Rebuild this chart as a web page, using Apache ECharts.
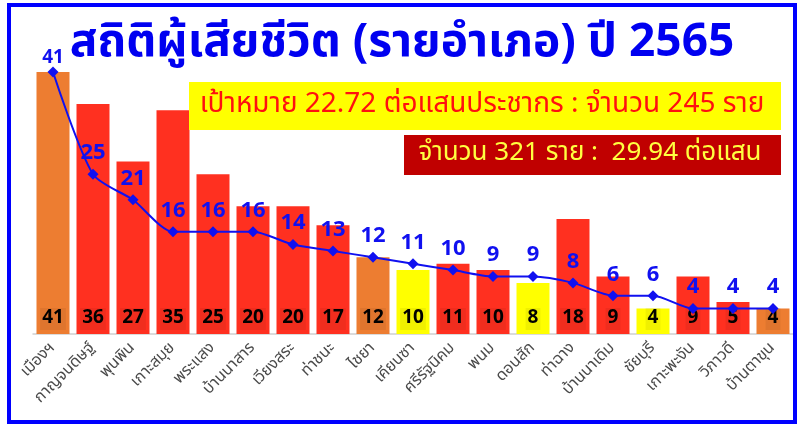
<!DOCTYPE html>
<html>
<head>
<meta charset="utf-8">
<script src="https://cdn.jsdelivr.net/npm/echarts@6/dist/echarts.min.js"></script>
<style>
  html, body { margin: 0; padding: 0; background: #fff; }
  #chart { width: 801px; height: 427px; }
</style>
</head>
<body>
<div id="chart"></div>
<script>
  // อำเภอ
  const districts = ['เมืองฯ', 'กาญจนดิษฐ์', 'พุนพิน', 'เกาะสมุย', 'พระแสง', 'บ้านนาสาร', 'เวียงสระ', 'ท่าชนะ', 'ไชยา', 'เคียนซา',
    'ศรีรัฐนิคม', 'พนม', 'ดอนสัก', 'ท่าฉาง', 'บ้านนาเดิม', 'ชัยบุรี', 'เกาะพะงัน', 'วิภาวดี', 'บ้านตาขุน'];
  // จำนวนผู้เสียชีวิต (แท่ง)
  const deaths = [41, 36, 27, 35, 25, 20, 20, 17, 12, 10, 11, 10, 8, 18, 9, 4, 9, 5, 4];
  // เส้น
  const lineValues = [41, 25, 21, 16, 16, 16, 14, 13, 12, 11, 10, 9, 9, 8, 6, 6, 4, 4, 4];
  // กลุ่มสีของแท่ง: 0 = แดง, 1 = ส้ม, 2 = เหลือง
  const barGroup = [1, 0, 0, 0, 0, 0, 0, 0, 1, 2, 0, 0, 2, 0, 0, 2, 0, 0, 1];

  const titleText = 'สถิติผู้เสียชีวิต (รายอำเภอ) ปี 2565';
  const targetText = 'เป้าหมาย 22.72 ต่อแสนประชากร : จำนวน 245 ราย';
  const actualText = 'จำนวน 321 ราย :  29.94 ต่อแสน';

  const palette = ['#FF3020', '#ED7D31', '#FFFF00'];
  const FONT = "'Noto Sans Thai', 'Noto Sans', sans-serif";

  const chart = echarts.init(document.getElementById('chart'));

  chart.setOption({
    backgroundColor: '#fff',
    animation: false,
    grid: { left: 33, right: 8, top: 72, bottom: 93 },
    xAxis: {
      type: 'category',
      data: districts,
      axisTick: { show: false },
      axisLine: { lineStyle: { color: '#d0d0d0', width: 1.5 } },
      axisLabel: {
        rotate: 45,
        interval: 0,
        color: '#4a4a4a',
        fontSize: 16,
        fontFamily: FONT,
        margin: 12
      }
    },
    yAxis: {
      type: 'value',
      min: 0,
      max: 41,
      show: false
    },
    series: [
      {
        type: 'bar',
        data: deaths.map((v, i) => ({ value: v, itemStyle: { color: palette[barGroup[i]] } })),
        barCategoryGap: '17.5%',
        label: {
          show: true,
          position: 'insideBottom',
          distance: 4,
          color: '#000',
          fontSize: 19,
          fontWeight: 'bold',
          fontFamily: FONT,
          backgroundColor: 'rgba(0,0,0,0.06)',
          padding: [2, 2, 1, 2]
        },
        z: 2
      },
      {
        type: 'line',
        data: lineValues.map((v, i) => i === 0
          ? { value: v, label: { fontSize: 19, distance: -2 } }
          : v),
        smooth: 0.25,
        symbol: 'diamond',
        symbolSize: 11,
        lineStyle: { color: '#1010F0', width: 2 },
        itemStyle: { color: '#1010F0' },
        label: {
          show: true,
          position: 'top',
          distance: 3,
          color: '#1010F0',
          fontSize: 22,
          fontWeight: 'bold',
          fontFamily: FONT
        },
        z: 5
      }
    ],
    graphic: [
      {
        type: 'rect',
        shape: { x: 9, y: 5, width: 786, height: 417 },
        style: { fill: 'none', stroke: '#0000FF', lineWidth: 4 },
        z: 100
      },
      {
        type: 'text',
        x: 402,
        y: 47,
        style: {
          text: titleText,
          fill: '#0000F0',
          font: "bold 46px " + FONT,
          align: 'center',
          verticalAlign: 'middle'
        },
        z: 100
      },
      {
        type: 'rect',
        shape: { x: 189, y: 82, width: 592, height: 48 },
        style: { fill: '#FFFF00' },
        z: 90
      },
      {
        type: 'text',
        x: 482,
        y: 106,
        style: {
          text: targetText,
          fill: '#FF1010',
          font: "28px " + FONT,
          align: 'center',
          verticalAlign: 'middle'
        },
        z: 100
      },
      {
        type: 'rect',
        shape: { x: 404, y: 135, width: 377, height: 40 },
        style: { fill: '#C00000' },
        z: 90
      },
      {
        type: 'text',
        x: 590,
        y: 155,
        style: {
          text: actualText,
          fill: '#FFFF40',
          font: "26px " + FONT,
          align: 'center',
          verticalAlign: 'middle'
        },
        z: 100
      }
    ]
  });
</script>
</body>
</html>
